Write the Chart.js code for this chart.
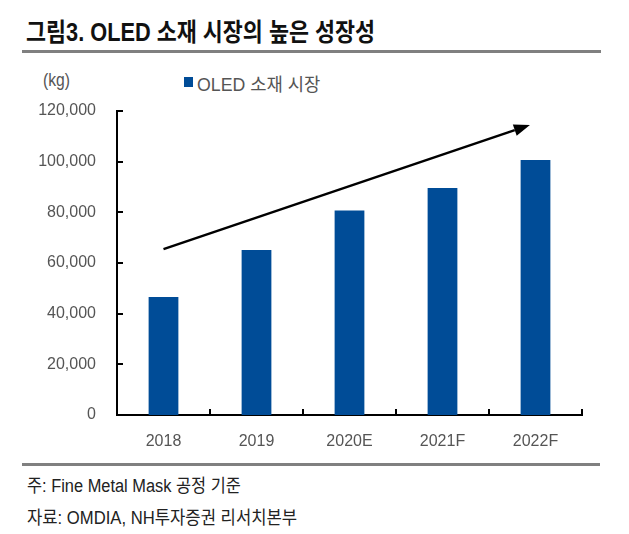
<!DOCTYPE html>
<html>
<head>
<meta charset="utf-8">
<script src="https://cdn.jsdelivr.net/npm/chart.js@4.4.0/dist/chart.umd.min.js"></script>
<style>
  html, body { margin: 0; padding: 0; background: #fff; }
  #page { position: relative; width: 629px; height: 534px; overflow: hidden; }
  .txt { position: absolute; white-space: nowrap; transform-origin: 0 50%; line-height: 24px; height: 24px; }
  .rule { position: absolute; background: #808080; }
  #title { left: 26px; top: 12px; font: bold 25px "Liberation Sans", "Noto Sans CJK KR", sans-serif; color: #111; }
  #unit { left: 43px; top: 70px; font: 18px "Liberation Sans", sans-serif; color: #555; }
  #legendBox { position: absolute; left: 184px; top: 77px; width: 9px; height: 10px; background: #004c97; }
  #legendText { left: 197px; top: 70px; font: 18px "Liberation Sans", "Noto Sans CJK KR", sans-serif; color: #555; }
  .note { left: 27px; font: 18px "Liberation Sans", "Noto Sans CJK KR", sans-serif; color: #222; }
  #chartCanvas { position: absolute; left: 0; top: 60px; }
</style>
</head>
<body>
<div id="page">
  <div id="title" class="txt">그림3. OLED 소재 시장의 높은 성장성</div>
  <div class="rule" style="left:22px; top:50px; width:579px; height:3px;"></div>
  <div id="unit" class="txt">(kg)</div>
  <div id="legendBox"></div>
  <div id="legendText" class="txt"></div>
  <canvas id="chartCanvas" width="629" height="400"></canvas>
  <div class="rule" style="left:22px; top:463px; width:578px; height:3px;"></div>
  <div id="note1" class="txt note" style="top:471px;">주: Fine Metal Mask 공정 기준</div>
  <div id="note2" class="txt note" style="top:503px;">자료: OMDIA, NH투자증권 리서치본부</div>
</div>
<script>
  var seriesName = "OLED 소재 시장";
  var years = ["2018", "2019", "2020E", "2021F", "2022F"];
  var marketKg = [46600, 65100, 80700, 89600, 100700];
  var yTicks = [0, 20000, 40000, 60000, 80000, 100000, 120000];
  // trend arrow, in (category index, kg)
  var arrowFrom = [0, 65500];
  var arrowTo = [3.94, 114500];

  document.getElementById("legendText").textContent = seriesName;

  // squeeze a text line to the width it has in the reference
  function fitWidth(id, w) {
    var el = document.getElementById(id);
    el.style.transform = "scaleX(" + (w / el.offsetWidth) + ")";
  }
  fitWidth("title", 349);
  fitWidth("unit", 27);
  fitWidth("legendText", 123);
  fitWidth("note1", 214);
  fitWidth("note2", 270);

  var labelFont = { family: "'Liberation Sans', sans-serif", size: 16 };

  var axisMarks = {
    id: "axisMarks",
    afterDraw: function (chart) {
      var ctx = chart.ctx, x = chart.scales.x, y = chart.scales.y;
      ctx.save();
      ctx.strokeStyle = "#000";
      ctx.lineWidth = 2;
      ctx.beginPath();
      yTicks.forEach(function (v) {
        var py = Math.round(y.getPixelForValue(v));
        ctx.moveTo(x.left, py);
        ctx.lineTo(x.left + 6, py);
      });
      for (var i = 1; i <= years.length; i++) {
        var px = Math.round(x.getPixelForValue(i - 0.5));
        ctx.moveTo(px, y.bottom);
        ctx.lineTo(px, y.bottom - 6);
      }
      ctx.stroke();

      var x1 = x.getPixelForValue(arrowFrom[0]), y1 = y.getPixelForValue(arrowFrom[1]);
      var x2 = x.getPixelForValue(arrowTo[0]), y2 = y.getPixelForValue(arrowTo[1]);
      var a = Math.atan2(y2 - y1, x2 - x1);
      var head = 16, half = 6;
      var bx = x2 - head * Math.cos(a), by = y2 - head * Math.sin(a);
      ctx.lineWidth = 2.5;
      ctx.beginPath();
      ctx.moveTo(x1, y1);
      ctx.lineTo(bx, by);
      ctx.stroke();
      ctx.fillStyle = "#000";
      ctx.beginPath();
      ctx.moveTo(x2, y2);
      ctx.lineTo(bx + half * Math.sin(a), by - half * Math.cos(a));
      ctx.lineTo(bx - half * Math.sin(a), by + half * Math.cos(a));
      ctx.closePath();
      ctx.fill();
      ctx.restore();
    }
  };

  new Chart(document.getElementById("chartCanvas").getContext("2d"), {
    type: "bar",
    data: {
      labels: years,
      datasets: [{
        label: seriesName,
        data: marketKg,
        backgroundColor: "#004c97",
        borderWidth: 0,
        categoryPercentage: 1,
        barPercentage: 0.32
      }]
    },
    options: {
      responsive: false,
      animation: false,
      devicePixelRatio: 1,
      layout: { padding: { top: 51, right: 47, left: 0, bottom: 0 } },
      plugins: { legend: { display: false }, tooltip: { enabled: false } },
      scales: {
        x: {
          afterFit: function (s) { s.height = 45; },
          grid: { display: false, drawTicks: false },
          border: { display: true, color: "#000", width: 2 },
          ticks: { color: "#555", font: labelFont, padding: 17, maxRotation: 0 }
        },
        y: {
          min: 0,
          max: 120000,
          afterFit: function (s) { s.width = 117; },
          afterBuildTicks: function (s) { s.ticks = yTicks.map(function (v) { return { value: v }; }); },
          grid: { display: false, drawTicks: false },
          border: { display: true, color: "#000", width: 2 },
          ticks: {
            color: "#555",
            font: labelFont,
            padding: 21,
            callback: function (v) { return v.toLocaleString("en-US"); }
          }
        }
      }
    },
    plugins: [axisMarks]
  });
</script>
</body>
</html>
